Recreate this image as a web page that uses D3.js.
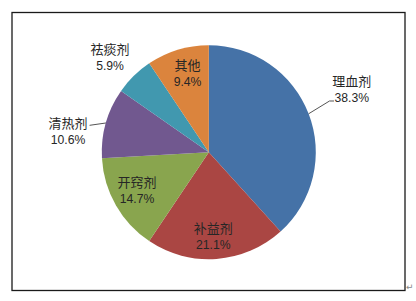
<!DOCTYPE html>
<html>
<head>
<meta charset="utf-8">
<script src="https://cdn.jsdelivr.net/npm/d3@7/dist/d3.min.js"></script>
<style>
  html, body { margin: 0; padding: 0; background: #fff; }
  svg { display: block; }
  text.name { font-family: "Noto Sans CJK SC", "Noto Sans", sans-serif; }
  text.pct { font-family: "Liberation Sans", "DejaVu Sans", sans-serif; }
</style>
</head>
<body>
<svg id="chart" width="416" height="301"></svg>
<script>
// Share of prescriptions by category (%)
const categories = ["理血剂", "补益剂", "开窍剂", "清热剂", "祛痰剂", "其他"];
const shares = [38.3, 21.1, 14.7, 10.6, 5.9, 9.4];
const colors = ["#4572A7", "#AA4643", "#89A54E", "#71588F", "#4198AF", "#DB843D"];

// Label placement: distance from centre (in radii) and angular nudge (degrees)
const labelDist = [1.46, 0.785, 0.76, 1.33, 1.28, 0.766];
const labelNudge = [-2.7, 1.1, 1.7, -7.3, -1.7, 1.9];
// Which labels get a leader line, and where it attaches
const leaderSide = ["left-second", null, null, "right-first", null, null];

const svg = d3.select("#chart");
const cx = 208.8, cy = 152.2, r = 107;

// Outer frame
svg.append("rect")
  .attr("x", 12).attr("y", 12.5)
  .attr("width", 393).attr("height", 278)
  .attr("fill", "none")
  .attr("stroke", "#1a1a1a")
  .attr("stroke-width", 1.3);

// Paragraph mark beside the frame
svg.append("text")
  .attr("class", "pct")
  .attr("x", 406).attr("y", 290)
  .attr("font-size", 9)
  .attr("fill", "#888")
  .text("↵");

const data = categories.map((c, i) => ({ name: c, value: shares[i], color: colors[i], i }));

const pie = d3.pie().value(d => d.value).sort(null);
const arcs = pie(data);
const arc = d3.arc().innerRadius(0).outerRadius(r);

const g = svg.append("g").attr("transform", `translate(${cx},${cy})`);

g.selectAll("path.slice")
  .data(arcs)
  .join("path")
  .attr("class", "slice")
  .attr("d", arc)
  .attr("fill", d => d.data.color);

const lineGap = 17.5;
g.selectAll("g.label")
  .data(arcs)
  .join("g")
  .attr("class", "label")
  .each(function (d) {
    const i = d.data.i;
    const mid = (d.startAngle + d.endAngle) / 2 + labelNudge[i] * Math.PI / 180;
    const dist = labelDist[i] * r;
    const x = dist * Math.sin(mid);
    const y = -dist * Math.cos(mid);
    const sel = d3.select(this);
    const t1 = sel.append("text")
      .attr("class", "name")
      .attr("x", x).attr("y", y - lineGap / 2)
      .attr("text-anchor", "middle")
      .attr("dominant-baseline", "central")
      .attr("font-size", 13)
      .attr("fill", "#262626")
      .text(d.data.name);
    const t2 = sel.append("text")
      .attr("class", "pct")
      .attr("x", x).attr("y", y + lineGap / 2)
      .attr("text-anchor", "middle")
      .attr("dominant-baseline", "central")
      .attr("font-size", 12.2)
      .attr("fill", "#262626")
      .text(d3.format(".1f")(d.data.value) + "%");

    const side = leaderSide[i];
    if (side) {
      const amid = (d.startAngle + d.endAngle) / 2;
      const sx = r * Math.sin(amid), sy = -r * Math.cos(amid);
      let pts;
      if (side === "left-second") {
        const b = t2.node().getBBox();
        const ey = y + lineGap / 2 + 3;
        pts = [[sx, sy], [b.x - 5, ey], [b.x - 0.5, ey]];
      } else {
        const b = t1.node().getBBox();
        const ey = y - lineGap / 2 + 3;
        pts = [[b.x + b.width + 2, ey], [sx, sy]];
      }
      sel.insert("path", "text")
        .attr("d", d3.line()(pts))
        .attr("fill", "none")
        .attr("stroke", "#555")
        .attr("stroke-width", 1);
    }
  });
</script>
</body>
</html>
